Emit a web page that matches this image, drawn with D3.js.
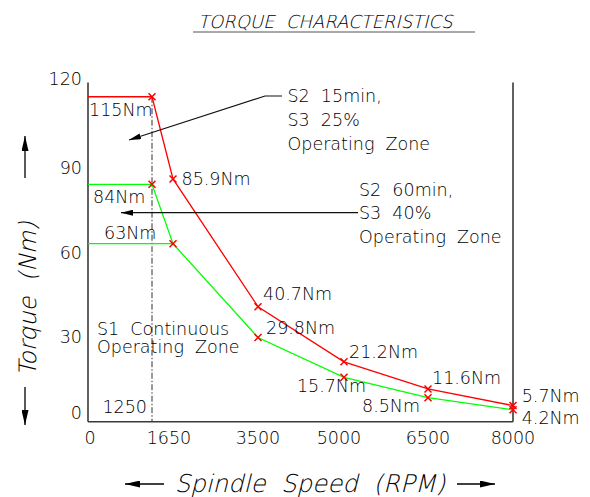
<!DOCTYPE html>
<html><head><meta charset="utf-8">
<script src="https://cdn.jsdelivr.net/npm/d3@7"></script>
<style>
html,body{margin:0;padding:0;background:#fff;}
svg text{font-family:"DejaVu Sans","Open Sans",sans-serif;font-weight:200;fill:#000;white-space:pre;}
</style></head>
<body><svg id="c" width="590" height="497"></svg>
<script>
// ---- data ----
const speedStops = [0, 1250, 1650, 3500, 5000, 6500, 8000];
const xTicks = [0, 1650, 3500, 5000, 6500, 8000];
const yTicks = [0, 30, 60, 90, 120];
const s2Speed = [0, 1250, 1650, 3500, 5000, 6500, 8000];      // S2 15min / S3 25%
const s2Torque = [115, 115, 85.9, 40.7, 21.2, 11.6, 5.7];
const s6Speed = [0, 1250, 1650, 3500, 5000, 6500, 8000];      // S2 60min / S3 40%
const s6Torque = [84, 84, 63, 29.8, 15.7, 8.5, 4.2];
const s1Speed = [0, 1650];                                      // S1 continuous
const s1Torque = [63, 63];
const baseSpeed = 1250;

const svg = d3.select("#c");
// CAD drawing: speed axis is piecewise (stations not proportional)
const x = d3.scaleLinear().domain(speedStops).range([88, 152, 173, 258, 344, 428, 513]);
const y = d3.scaleLinear().domain([0, 120]).range([421.7, 82.6]);

const defs = svg.append("defs");
defs.append("marker").attr("id","ah").attr("viewBox","0 0 12 6").attr("refX",12).attr("refY",3)
  .attr("markerWidth",12).attr("markerHeight",6).attr("markerUnits","userSpaceOnUse").attr("orient","auto")
  .append("path").attr("d","M0,0L12,3L0,6Z").attr("fill","#000");
defs.append("marker").attr("id","ahBig").attr("viewBox","0 0 15 7").attr("refX",15).attr("refY",3.5)
  .attr("markerWidth",15).attr("markerHeight",7).attr("markerUnits","userSpaceOnUse").attr("orient","auto")
  .append("path").attr("d","M0,0L15,3.5L0,7Z").attr("fill","#000");

// frame
const fr = svg.append("g").attr("stroke","#3a3a3a").attr("stroke-width",1.6).attr("fill","none");
fr.append("line").attr("x1",x(0)).attr("x2",x(0)).attr("y1",y(120)).attr("y2",y(0));
fr.append("line").attr("x1",x(0)).attr("x2",x(8000)).attr("y1",y(0)).attr("y2",y(0));
fr.append("line").attr("x1",x(8000)).attr("x2",x(8000)).attr("y1",y(120)).attr("y2",y(0));

// base speed dash-dot line
svg.append("line").attr("x1",x(baseSpeed)).attr("x2",x(baseSpeed)).attr("y1",y(115)).attr("y2",y(0))
  .attr("stroke","#333").attr("stroke-width",1).attr("stroke-dasharray","6,2,1.5,2");

// tick labels
const fs = 17.5;
svg.append("g").selectAll("text").data(yTicks).join("text")
  .attr("x", x(0) - 6).attr("y", d => d === 0 ? y(d) - 3 : (d === 120 ? y(d) + 2 : y(d) + 6.5))
  .attr("text-anchor","end").attr("font-size",fs).text(d => d);
svg.append("g").selectAll("text").data(xTicks).join("text")
  .attr("x", d => d === 1650 ? x(d) - 4 : (d === 5000 ? x(d) - 5 : x(d) + (d===0?2:0))).attr("y", y(0) + 22)
  .attr("text-anchor","middle").attr("font-size",fs).text(d => d);

// curves
const line = d3.line().x(d => x(d[0])).y(d => y(d[1]));
const s2 = s2Speed.map((v,i)=>[v,s2Torque[i]]);
const s6 = s6Speed.map((v,i)=>[v,s6Torque[i]]);
const s1 = s1Speed.map((v,i)=>[v,s1Torque[i]]);
svg.append("path").attr("d",line(s1)).attr("fill","none").attr("stroke","#00ff00").attr("stroke-width",1.3);
svg.append("path").attr("d",line(s6)).attr("fill","none").attr("stroke","#00ff00").attr("stroke-width",1.3);
svg.append("path").attr("d",line(s2)).attr("fill","none").attr("stroke","#ff0000").attr("stroke-width",1.3);

// x markers
const marks = [...s2.slice(1), ...s6.slice(1)];
const r = 3.5;
svg.append("g").selectAll("path").data(marks).join("path")
  .attr("d", d => `M${x(d[0])-r},${y(d[1])-r}L${x(d[0])+r},${y(d[1])+r}M${x(d[0])-r},${y(d[1])+r}L${x(d[0])+r},${y(d[1])-r}`)
  .attr("stroke","#ff0000").attr("stroke-width",1.5).attr("fill","none");

// value labels (offsets relative to their points)
const lab = (sp, tq, txt, dx, dy, anchor) =>
  svg.append("text").attr("x", x(sp)+dx).attr("y", y(tq)+dy+6.3).attr("text-anchor",anchor||"start")
    .attr("font-size",fs).text(txt);
lab(0,115,"115Nm",1,13);
lab(0,84,"84Nm",5,12);
lab(0,63,"63Nm",16,-11);
lab(1650,85.9,"85.9Nm",8.5,0);
lab(3500,40.7,"40.7Nm",5,-13);
lab(3500,29.8,"29.8Nm",8,-10);
lab(5000,21.2,"21.2Nm",5,-10);
lab(5000,15.7,"15.7Nm",22,8.5,"end");
lab(6500,11.6,"11.6Nm",4,-11);
lab(6500,8.5,"8.5Nm",-8,8,"end");
lab(8000,5.7,"5.7Nm",8.7,-10);
lab(8000,4.2,"4.2Nm",8.7,8);
svg.append("text").attr("x",x(baseSpeed)-5).attr("y",y(5.4)+6.3).attr("text-anchor","end")
  .attr("font-size",fs).text(baseSpeed);

// zone notes
const note = (lines, x0, y0, dy) => {
  const t = svg.append("text").attr("font-size",fs);
  lines.forEach((s,i)=>t.append("tspan").attr("x",x0).attr("y",y0+i*dy+6.3).text(s));
};
note(["S1  Continuous","Operating  Zone"], 97, 328.3, 18.5);
note(["S2  15min,","S3  25%","Operating  Zone"], 287.5, 96, 24);
note(["S2  60min,","S3  40%","Operating  Zone"], 359, 189.5, 23.5);

// leader lines
svg.append("path").attr("d",`M282,96L265,96L129,140`).attr("fill","none").attr("stroke","#111")
  .attr("stroke-width",1.2).attr("marker-end","url(#ah)");
svg.append("path").attr("d",`M358,212.7L121,212.7`).attr("fill","none").attr("stroke","#111")
  .attr("stroke-width",1.2).attr("marker-end","url(#ah)");

// title (light face slanted like the CAD italic)
svg.append("text").attr("transform","translate(198,28) skewX(-14)").attr("font-size",18)
  .text("TORQUE  CHARACTERISTICS");
svg.append("line").attr("x1",193).attr("x2",475).attr("y1",32).attr("y2",32).attr("stroke","#555").attr("stroke-width",1.2);

// axis titles
svg.append("text").attr("transform","translate(36,299) rotate(-90) skewX(-14)").attr("text-anchor","middle")
  .attr("font-size",24).text("Torque  (Nm)");
svg.append("text").attr("transform","translate(310,492) skewX(-14)").attr("text-anchor","middle")
  .attr("font-size",24.5).text("Spindle  Speed  (RPM)");

// axis arrows
const ar = svg.append("g").attr("stroke","#000").attr("stroke-width",1.3);
ar.append("line").attr("x1",25).attr("x2",25).attr("y1",178).attr("y2",136).attr("marker-end","url(#ahBig)");
ar.append("line").attr("x1",25).attr("x2",25).attr("y1",387).attr("y2",425).attr("marker-end","url(#ahBig)");
ar.append("line").attr("x1",164).attr("x2",125).attr("y1",484).attr("y2",484).attr("marker-end","url(#ahBig)");
ar.append("line").attr("x1",457).attr("x2",495).attr("y1",484).attr("y2",484).attr("marker-end","url(#ahBig)");
</script></body></html>
